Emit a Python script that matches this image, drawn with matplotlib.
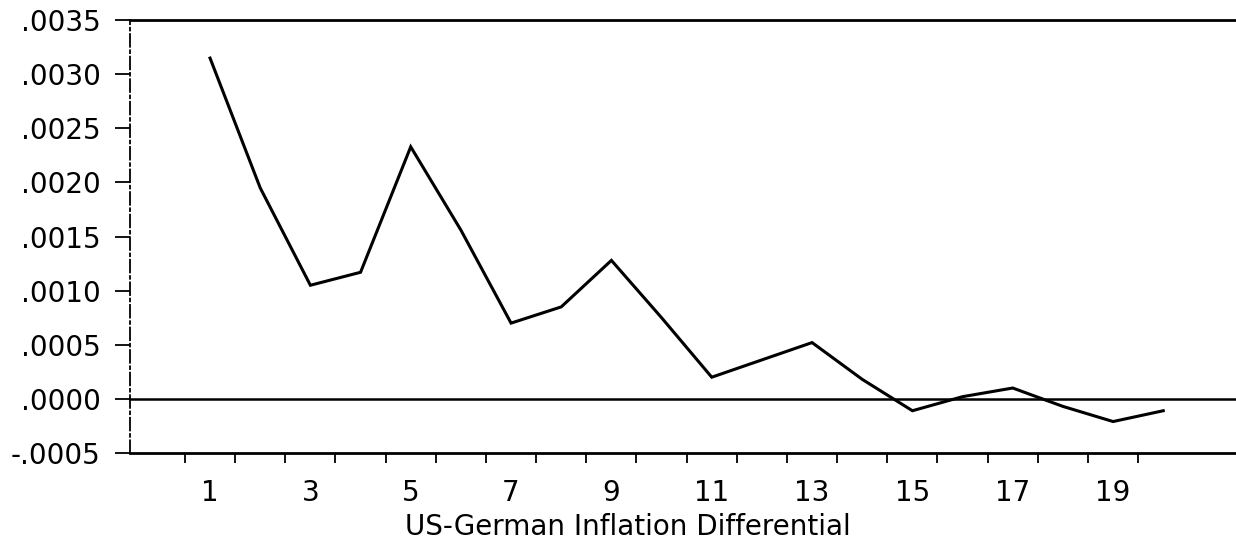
import numpy as np
import matplotlib
matplotlib.use("Agg")
import matplotlib.pyplot as plt
from matplotlib.ticker import FixedLocator, NullFormatter

# impulse response, periods 1..20
periods = np.arange(1, 21)
response = [0.00315, 0.00195, 0.00105, 0.00117, 0.00233, 0.00156, 0.00070, 0.00085,
            0.00128, 0.00075, 0.00020, 0.00036, 0.00052, 0.00018, -0.00011, 0.00002,
            0.00010, -0.00007, -0.00021, -0.00011]
y_ticks = [-0.0005, 0.0, 0.0005, 0.0010, 0.0015, 0.0020, 0.0025, 0.0030, 0.0035]
y_labels = ["-.0005", ".0000", ".0005", ".0010", ".0015", ".0020", ".0025", ".0030", ".0035"]
x_labels = [str(p) for p in periods if p % 2 == 1]

fig = plt.figure(figsize=(12.36, 5.47), dpi=100)
ax = fig.add_axes([0.105, 0.172, 0.895, 0.791])

ax.plot(periods, response, color="black", lw=2.2, solid_joinstyle="miter")
ax.axhline(0, color="black", lw=1.8)

ax.set_xlim(-0.6, 21.45)
ax.set_ylim(-0.0005, 0.0035)

for side in ["top", "bottom"]:
    ax.spines[side].set_linewidth(2.0)
ax.spines["right"].set_visible(False)
ax.spines["left"].set_linestyle((0, (7, 2, 1.5, 2)))
ax.spines["left"].set_linewidth(1.3)

ax.set_yticks(y_ticks)
ax.set_yticklabels(y_labels)
ax.tick_params(axis="y", direction="out", length=11, width=1.3, pad=10, labelsize=20)

# tick marks fall between periods, labels sit on odd periods
ax.xaxis.set_major_locator(FixedLocator(np.arange(0.5, 20.5, 1.0)))
ax.xaxis.set_major_formatter(NullFormatter())
ax.xaxis.set_minor_locator(FixedLocator([p for p in periods if p % 2 == 1]))
ax.set_xticklabels(x_labels, minor=True)
ax.tick_params(axis="x", which="major", direction="out", length=7, width=1.3)
ax.tick_params(axis="x", which="minor", length=0, pad=19, labelsize=20)

ax.set_xlabel("US-German Inflation Differential", fontsize=20)
ax.xaxis.set_label_coords(0.45, -0.138)

fig.savefig("out.png", dpi=100)
